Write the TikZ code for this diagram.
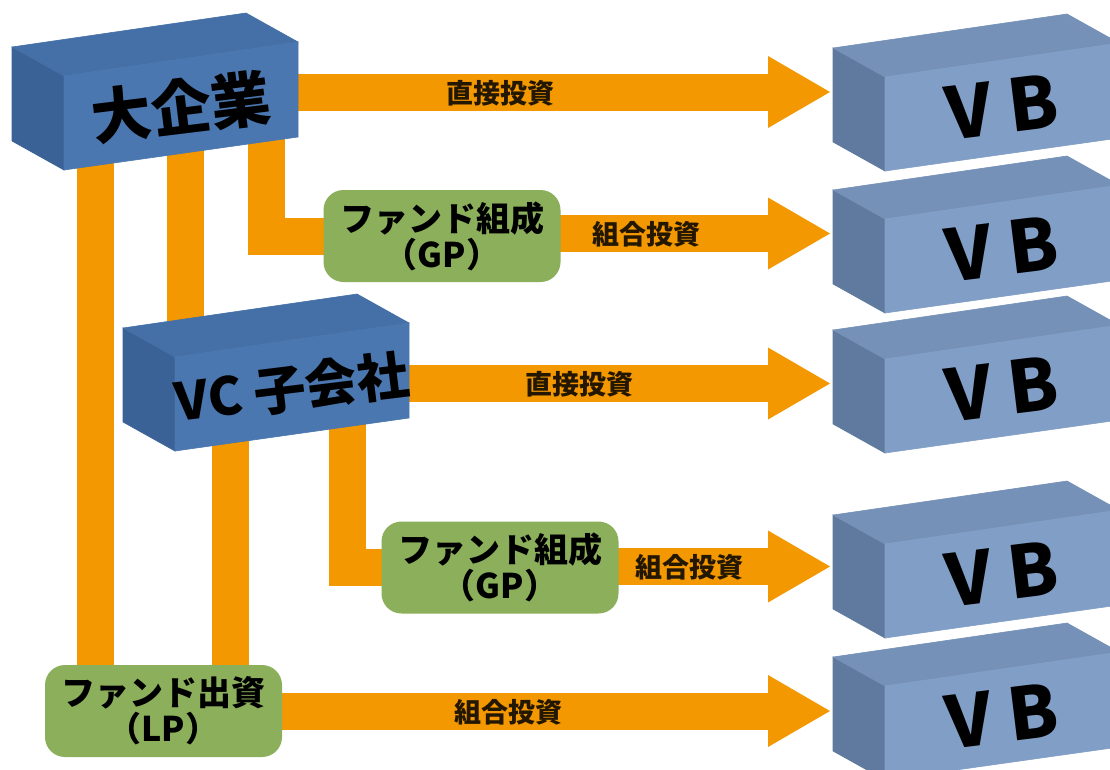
\documentclass[tikz,border=0pt]{standalone}
\usepackage{fontspec}
\newfontfamily\jp{Noto Sans CJK JP}
\pgfdeclarelayer{back}
\pgfdeclarelayer{bg}
\pgfsetlayers{back,bg,main}
\definecolor{org}{HTML}{F39800}
\definecolor{bfront}{HTML}{4A77AF}
\definecolor{btop}{HTML}{4470A7}
\definecolor{bleft}{HTML}{3A6296}
\definecolor{vfront}{HTML}{819EC6}
\definecolor{vtop}{HTML}{7591B7}
\definecolor{vleft}{HTML}{5F7A9E}
\definecolor{grn}{HTML}{8CAF5C}
\newcommand\blockbox[5]{%
  \begin{scope}[shift={(#1,#2)}]
    \filldraw[fill=#5,draw=#5,line width=0.6pt] (0,0) -- (52,29) -- (52,123) -- (0,94) -- cycle;
    \filldraw[fill=#4,draw=#4,line width=0.6pt] (0,0) -- (234,-34) -- (286,-5) -- (52,29) -- cycle;
    \filldraw[fill=#3,draw=#3,line width=0.6pt] (52,29) -- (286,-5) -- (286,90) -- (52,123) -- cycle;
  \end{scope}}
\newcommand\fatarrow[2]{%
  \draw[pipe] (#1) -- ([xshift=-60pt]#2);
  \fill[org] (#2) -- ++(-62,-36) -- ++(0,72) -- cycle;}
\begin{document}
\begin{tikzpicture}[x=1pt,y=-1pt,
  pipe/.style={draw=org,line width=37pt},
  bigtxt/.style={font=\jp\bfseries\fontsize{60}{60}\selectfont,text=black,inner sep=0pt},
  vctxt/.style={font=\jp\bfseries\fontsize{52}{52}\selectfont,text=black,inner sep=0pt},
  vbtxt/.style={font=\jp\bfseries\fontsize{72}{72}\selectfont,text=black,inner sep=0pt},
  fund/.style={fill=grn,rounded corners=20pt,minimum width=237pt,minimum height=92pt,
    align=center,inner sep=0pt,font=\jp\bfseries\fontsize{34}{36}\selectfont,text=black},
  lbl/.style={font=\jp\bfseries\fontsize{27}{27}\selectfont,text=black!85!org,inner sep=0pt}]
\useasboundingbox (0,0) rectangle (1110,769);
\begin{pgfonlayer}{back}
  \fill[white] (0,0) rectangle (1110,769);
\end{pgfonlayer}

% blocks
\blockbox{12}{47}{bfront}{btop}{bleft}
\node[bigtxt,rotate=7] (big) at (181,107) {大企業};
\blockbox{123}{328}{bfront}{btop}{bleft}
\node[vctxt,rotate=7] (vc) at (292,388) {VC 子会社};

\foreach \n/\y in {1/48,2/190,3/330,4/515,5/657}{
  \blockbox{833}{\y}{vfront}{vtop}{vleft}
  \node[vbtxt,rotate=7] (vb\n) at (1002,\y+59) {V B};
}

% fund boxes
\node[fund] (gp1) at (442,236) {ファンド組成\\（GP）};
\node[fund] (gp2) at (500,567.5) {ファンド組成\\（GP）};
\node[fund] (lp) at (163.5,711) {ファンド出資\\（LP）};

% arrow tips
\coordinate (t1) at (830,92);
\coordinate (t2) at (830,233.5);
\coordinate (t3) at (830,383.5);
\coordinate (t4) at (830,566.5);
\coordinate (t5) at (830,711);

% pipe starts
\coordinate (bigA) at (95,150);
\coordinate (bigB) at (185.5,150);
\coordinate (bigL) at (266.5,130);
\coordinate (vcC) at (230,430);
\coordinate (vcL) at (347.5,415);

\begin{pgfonlayer}{bg}
  \draw[pipe] (bigA) -- (bigA |- lp.center);
  \draw[pipe] (bigB) -- (bigB |- vc.center);
  \draw[pipe] (bigL) |- (gp1.center);
  \draw[pipe] (vcC) -- (vcC |- lp.center);
  \draw[pipe] (vcL) |- (gp2.center);
  \fatarrow{big.center |- t1}{t1}
  \fatarrow{gp1.center |- t2}{t2}
  \fatarrow{vc.center |- t3}{t3}
  \fatarrow{gp2.center |- t4}{t4}
  \fatarrow{lp.center |- t5}{t5}
\end{pgfonlayer}

% labels
\node[lbl] (l1) at (500,93) {直接投資};
\node[lbl] (l2) at (646,234) {組合投資};
\node[lbl] (l3) at (579,384) {直接投資};
\node[lbl] (l4) at (689,567) {組合投資};
\node[lbl] (l5) at (508,712) {組合投資};
\end{tikzpicture}
\end{document}
